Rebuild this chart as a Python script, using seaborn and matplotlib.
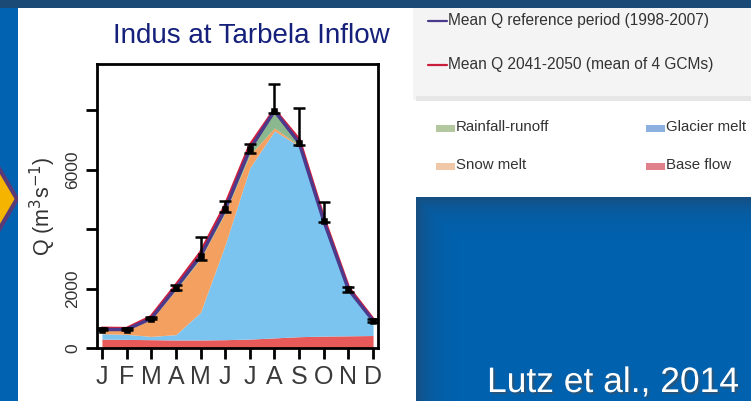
import numpy as np
import matplotlib
matplotlib.use("Agg")
import matplotlib.pyplot as plt
import matplotlib.patheffects as pe
from matplotlib.patches import Rectangle, Polygon
import seaborn as sns

# data (m3/s)
months = ["J", "F", "M", "A", "M", "J", "J", "A", "S", "O", "N", "D"]
month_num = [1, 2, 3, 4, 5, 6, 7, 8, 9, 10, 11, 12]
q_ref = [620, 620, 990, 2020, 3090, 4660, 6680, 7970, 6900, 4270, 1970, 920]
q_ref_hi = [660, 660, 1040, 2110, 3730, 4940, 6860, 8870, 8080, 4920, 2060, 970]
q_ref_lo = [590, 590, 960, 1950, 2960, 4560, 6570, 7900, 6840, 4230, 1880, 890]
q_fut = [660, 650, 1050, 2100, 3200, 4780, 6800, 8000, 7000, 4350, 2030, 960]

base_flow = [300, 290, 280, 270, 270, 280, 300, 340, 380, 400, 410, 420]
glacier_melt = [180, 170, 110, 180, 930, 3190, 5760, 6960, 6410, 3800, 1500, 460]
snow_melt = [120, 130, 570, 1500, 1800, 1080, 440, 100, 20, 30, 20, 10]
rainfall_runoff = [60, 60, 90, 150, 200, 230, 300, 600, 190, 120, 100, 70]

ytick_vals = [0, 2000, 4000, 6000, 8000]
ytick_labels = ["0", "2000", "", "6000", ""]

line_labels = ["Mean Q reference period (1998-2007)", "Mean Q 2041-2050 (mean of 4 GCMs)"]
patch_labels = ["Rainfall-runoff", "Glacier melt", "Snow melt", "Base flow"]

sns.set_theme(style="white")
plt.rcParams['font.family'] = ['Liberation Sans', 'DejaVu Sans']

W, H = 751, 401
fig = plt.figure(figsize=(7.51, 4.01), dpi=100)

# slide background
bg = fig.add_axes([0, 0, 1, 1])
bg.set_xlim(0, W)
bg.set_ylim(H, 0)
bg.axis('off')
yy, xx = np.mgrid[0:H, 0:W] + 0.5
blue = np.array([0, 98, 176]) / 255
dark = np.array([28, 74, 118]) / 255
shade = np.zeros((H, W))
zone = (xx > 416) & (yy > 197)
sh = np.maximum(np.exp(-(yy - 197) / 14), np.exp(-(xx - 416) / 14))
shade[zone] = 0.85 * sh[zone]
shade[yy < 8] = 1.0
img = blue[None, None, :] * (1 - shade[..., None]) + dark[None, None, :] * shade[..., None]
bg.imshow(img, extent=(0, W, H, 0), aspect='auto', zorder=0)

bg.add_patch(Polygon([(-20, 136), (17, 199), (-20, 262)], closed=True,
                     facecolor='#f5b400', edgecolor='#5b3a78', lw=3, zorder=1))
bg.add_patch(Rectangle((18, 8), 398, 393, facecolor='white', lw=0, zorder=2))
bg.add_patch(Rectangle((413, 8), 338, 92, facecolor='#f4f4f4', lw=0, zorder=2))
bg.add_patch(Rectangle((416, 96), 335, 5, facecolor='#e6e6e6', lw=0, zorder=2))
bg.add_patch(Rectangle((416, 101), 335, 96, facecolor='white', lw=0, zorder=2))

bg.text(251, 36, "Indus at Tarbela Inflow", fontsize=20, color='#14207a',
        ha='center', va='center', zorder=3)
bg.text(487, 392, "Lutz et al., 2014", fontsize=25.5, color='white', ha='left',
        va='baseline', zorder=3,
        path_effects=[pe.withSimplePatchShadow(offset=(1.5, -1.5), alpha=0.5)])

# legend drawn in slide coordinates
line_cols = ['#4b3a8c', '#c81e3c']
for i, (lab, c) in enumerate(zip(line_labels, line_cols)):
    y = 21 + 44 * i
    bg.plot([428, 447], [y, y], color=c, lw=1.6, zorder=3)
    bg.text(448, y, lab, fontsize=11.2, color='#333333',
            ha='left', va='center', zorder=3)
patch_cols = ['#b4c8a0', '#8cb0e0', '#f0c8a8', '#e0808a']
for i, (lab, c) in enumerate(zip(patch_labels, patch_cols)):
    x0 = 436 if i % 2 == 0 else 646
    y = 128 + 38 * (i // 2)
    bg.add_patch(Rectangle((x0, y - 3.5), 19, 7, facecolor=c, lw=0, zorder=3))
    bg.text(x0 + 20, y - 1, lab, fontsize=10.8, color='#333333',
            ha='left', va='center', zorder=3)

# hydrograph
ax = fig.add_axes([97 / W, 1 - 348 / H, 281 / W, 284 / H])
ax.set_facecolor('white')
ax.stackplot(month_num, base_flow, glacier_melt, snow_melt, rainfall_runoff,
             colors=['#e85a5a', '#7cc4f0', '#f4a060', '#8cb890'], lw=0)
sns.lineplot(x=month_num, y=q_fut, color='#d02040', lw=2.6, ax=ax)
sns.lineplot(x=month_num, y=q_ref, color='#4b3a8c', lw=2.4, ax=ax)
err = [np.array(q_ref) - np.array(q_ref_lo), np.array(q_ref_hi) - np.array(q_ref)]
ax.errorbar(month_num, q_ref, yerr=err, fmt='none', ecolor='black',
            elinewidth=1.8, capsize=4, capthick=1.8)
sns.scatterplot(x=month_num, y=q_ref, marker='s', color='black', s=22,
                edgecolor='black', ax=ax, zorder=5)

ax.set_xlim(0.8, 12.2)
ax.set_ylim(0, 9550)
ax.set_xticks(month_num)
ax.set_xticklabels(months, fontsize=18, color='#3a3a3a')
ax.set_yticks(ytick_vals)
ax.set_yticklabels(ytick_labels, fontsize=12.5, color='#333333', rotation=90, va='center')
ax.tick_params(direction='out', length=8, width=2, color='black', bottom=True, left=True)
ax.tick_params(axis='x', pad=4)
ax.tick_params(axis='y', pad=4)
for s in ax.spines.values():
    s.set_color('black')
    s.set_linewidth(2)
ax.set_ylabel("Q (m$^3$s$^{-1}$)", fontsize=15.5, color='#333333', labelpad=5)
ax.set_xlabel("")

fig.savefig("out.png", dpi=100)
